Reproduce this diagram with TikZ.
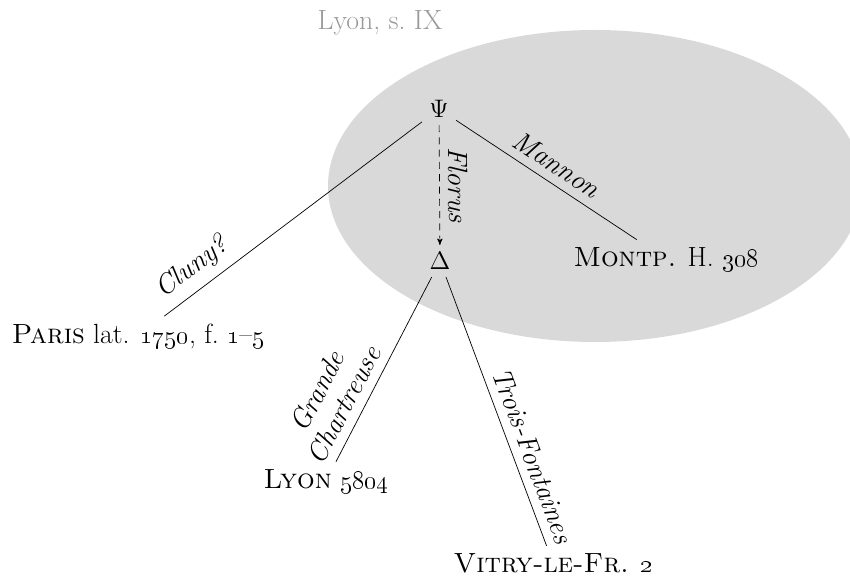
\documentclass[tikz,border=0pt]{standalone}
\usetikzlibrary{arrows}
\begin{document}
\begin{tikzpicture}[font=\fontsize{15.8}{19}\selectfont,
ms/.style={inner sep=4pt},
lbl/.style={font=\fontsize{15.8}{17}\selectfont\itshape,sloped,above=3pt,inner sep=2pt}]
\clip(0,0)rectangle(17,11.6);
\fill[black!15](11.9,7.88)ellipse(5.34 and 3.12);
\node[text=black!40](place)at(7.6,11.14){Lyon, s.~IX};
\node[ms](psi)at(8.78,9.42){$\Psi$};
\node[ms](delta)at(8.8,6.38){$\Delta$};
\node[ms](montp)at(13.32,6.42){\textsc{Montp.} H.~\oldstylenums{308}};
\node[ms](paris)at(2.76,4.88){\textsc{Paris} lat. \oldstylenums{1750}, f.~\oldstylenums{1}--\oldstylenums{5}};
\node[ms](lyon)at(6.52,1.98){\textsc{Lyon} \oldstylenums{5804}};
\node[ms](vitry)at(11.06,0.34){\textsc{Vitry-le-Fr.} \oldstylenums{2}};
\draw(psi)--node[lbl,pos=.84]{Cluny?}(paris);
\draw(psi)--node[lbl]{Mannon}(montp);
\draw[dash pattern=on 4pt off 3pt,-stealth'](psi)--node[lbl]{Florus}(delta);
\draw(delta)--node[lbl,pos=.74,align=center]{Grande\\Chartreuse}(lyon);
\draw(delta)--node[lbl,pos=.69]{Trois-Fontaines}(vitry);
\end{tikzpicture}
\end{document}
